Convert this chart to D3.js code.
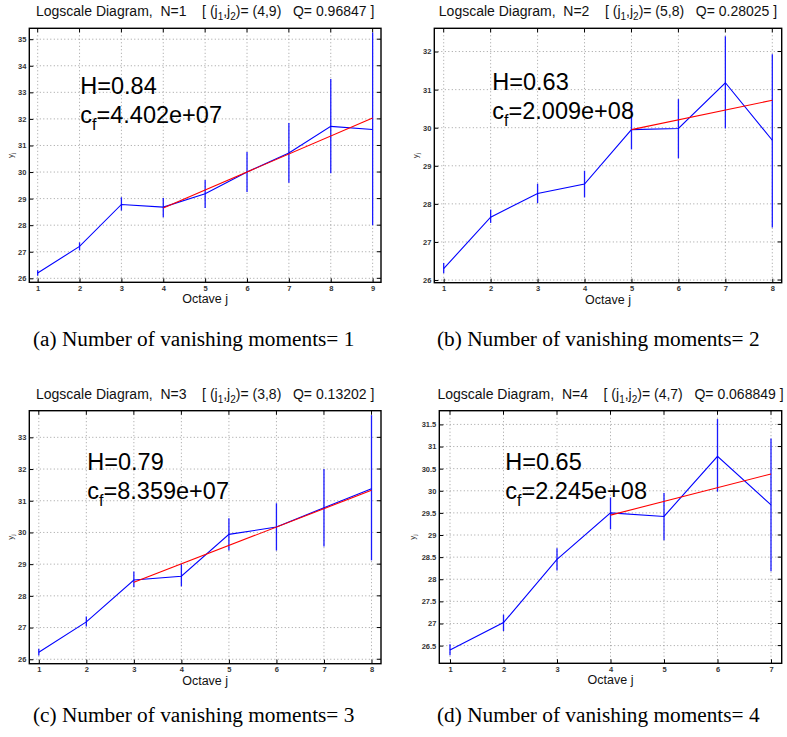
<!DOCTYPE html>
<html>
<head>
<meta charset="utf-8">
<script src="https://cdn.jsdelivr.net/npm/d3@7"></script>
<style>
  html, body { margin: 0; padding: 0; background: #fff; }
  svg { display: block; }
</style>
</head>
<body>
<svg id="fig" width="787" height="737"></svg>
<script>
// ---- Logscale diagram estimates, one set per number of vanishing moments ----
const octavesA = [1, 2, 3, 4, 5, 6, 7, 8, 9];
const yjA      = [26.2, 27.2, 28.78, 28.68, 29.18, 30.0, 30.72, 31.72, 31.6];
const loA      = [26.1, 27.05, 28.55, 28.3, 28.65, 29.25, 29.6, 29.95, 28.0];
const hiA      = [26.3, 27.35, 29.05, 29.02, 29.7, 30.75, 31.85, 33.5, 35.25];
const fitA     = [[4, 28.65], [9, 32.03]];

const octavesB = [1, 2, 3, 4, 5, 6, 7, 8];
const yjB      = [26.3, 27.65, 28.27, 28.52, 29.95, 29.98, 31.18, 29.67];
const loB      = [26.18, 27.5, 28.02, 28.17, 29.43, 29.2, 29.98, 27.38];
const hiB      = [26.45, 27.85, 28.53, 28.87, 30.55, 30.75, 32.4, 31.93];
const fitB     = [[5, 29.95], [8, 30.72]];

const octavesC = [1, 2, 3, 4, 5, 6, 7, 8];
const yjC      = [26.22, 27.18, 28.5, 28.62, 29.94, 30.17, 30.78, 31.38];
const loC      = [26.12, 27.03, 28.27, 28.3, 29.43, 29.43, 29.56, 29.12];
const hiC      = [26.33, 27.35, 28.77, 29.0, 30.45, 30.92, 32.0, 33.7];
const fitC     = [[3, 28.43], [8, 31.33]];

const octavesD = [1, 2, 3, 4, 5, 6, 7];
const yjD      = [26.4, 27.02, 28.45, 29.5, 29.42, 30.78, 29.68];
const loD      = [26.28, 26.83, 28.2, 29.13, 28.88, 29.98, 28.18];
const hiD      = [26.53, 27.2, 28.7, 29.85, 29.95, 31.62, 31.18];
const fitD     = [[4, 29.45], [7, 30.38]];

const yTicksA = [26, 27, 28, 29, 30, 31, 32, 33, 34, 35];
const yTicksB = [26, 27, 28, 29, 30, 31, 32];
const yTicksC = [26, 27, 28, 29, 30, 31, 32, 33];
const yTicksD = [26.5, 27, 27.5, 28, 28.5, 29, 29.5, 30, 30.5, 31, 31.5];

const titlesN  = ["1", "2", "3", "4"];
const rangesJ  = ["(4,9)", "(5,8)", "(3,8)", "(4,7)"];
const qValues  = ["0.96847", "0.28025", "0.13202", "0.068849"];
const hValues  = ["0.84", "0.63", "0.79", "0.65"];
const cfValues = ["4.402e+07", "2.009e+08", "8.359e+07", "2.245e+08"];
const captions = [
  "(a) Number of vanishing moments= 1",
  "(b) Number of vanishing moments= 2",
  "(c) Number of vanishing moments= 3",
  "(d) Number of vanishing moments= 4"
];

const svg = d3.select("#fig");
const SANS = "'Liberation Sans', Arial, Helvetica, sans-serif";
const SERIF = "'Liberation Serif', 'Times New Roman', Times, serif";

const panels = [
  { box: [29.3, 28.3, 381, 282.3], xd: [0.8, 9.2], yd: [25.85, 35.41], oct: octavesA, y: yjA, lo: loA, hi: hiA, fit: fitA, yt: yTicksA, txt: [51, 66], ylab: 16, cap: [33, 346] },
  { box: [434.3, 28.3, 781.7, 282.7], xd: [0.8, 8.2], yd: [25.93, 32.61], oct: octavesB, y: yjB, lo: loB, hi: hiB, fit: fitB, yt: yTicksB, txt: [58, 62], ylab: 16.5, cap: [437, 346] },
  { box: [29.3, 410.7, 381, 663.7], xd: [0.8, 8.2], yd: [25.86, 33.84], oct: octavesC, y: yjC, lo: loC, hi: hiC, fit: fitC, yt: yTicksC, txt: [58, 59], ylab: 16, cap: [33, 722] },
  { box: [439.3, 410.7, 781.7, 663.3], xd: [0.8, 7.2], yd: [26.1, 31.81], oct: octavesD, y: yjD, lo: loD, hi: hiD, fit: fitD, yt: yTicksD, txt: [66, 59], ylab: 24, cap: [437, 722] }
];

panels.forEach((p, i) => {
  const [x0, y0, x1, y1] = p.box;
  const x = d3.scaleLinear().domain(p.xd).range([x0, x1]);
  const y = d3.scaleLinear().domain(p.yd).range([y1, y0]);
  const g = svg.append("g");

  // dotted grid
  g.append("g").selectAll("line").data(p.oct).join("line")
    .attr("x1", d => x(d)).attr("x2", d => x(d))
    .attr("y1", y0).attr("y2", y1)
    .attr("stroke", "#888").attr("stroke-width", 0.8).attr("stroke-dasharray", "1,2.5");
  g.append("g").selectAll("line").data(p.yt).join("line")
    .attr("x1", x0).attr("x2", x1)
    .attr("y1", d => y(d)).attr("y2", d => y(d))
    .attr("stroke", "#888").attr("stroke-width", 0.8).attr("stroke-dasharray", "1,2.5");

  // axes (ticks point inward)
  const xAx = d3.axisBottom(x).tickValues(p.oct).tickSize(-4).tickPadding(3).tickFormat(d3.format("d"));
  const yAx = d3.axisLeft(y).tickValues(p.yt).tickSize(-4).tickPadding(3).tickFormat(d => String(d));
  const gx = g.append("g").attr("transform", `translate(0,${y1})`).call(xAx);
  const gy = g.append("g").attr("transform", `translate(${x0},0)`).call(yAx);
  [gx, gy].forEach(a => {
    a.select(".domain").remove();
    a.selectAll("text").attr("font-family", SANS).attr("font-size", 7.5)
      .attr("font-weight", "bold").attr("fill", "#333");
    a.selectAll("line").attr("stroke", "#000");
  });
  // mirrored ticks on top and right
  g.append("g").selectAll("line").data(p.oct).join("line")
    .attr("x1", d => x(d)).attr("x2", d => x(d)).attr("y1", y0).attr("y2", y0 + 4).attr("stroke", "#000");
  g.append("g").selectAll("line").data(p.yt).join("line")
    .attr("x1", x1).attr("x2", x1 - 4).attr("y1", d => y(d)).attr("y2", d => y(d)).attr("stroke", "#000");

  // frame
  g.append("rect").attr("x", x0).attr("y", y0).attr("width", x1 - x0).attr("height", y1 - y0)
    .attr("fill", "none").attr("stroke", "#000").attr("stroke-width", 1.4);

  // error bars
  g.append("g").selectAll("line").data(p.oct).join("line")
    .attr("x1", d => x(d)).attr("x2", d => x(d))
    .attr("y1", (d, k) => y(p.lo[k])).attr("y2", (d, k) => y(p.hi[k]))
    .attr("stroke", "#1a1aff").attr("stroke-width", 1.3);

  // estimate polyline
  const line = d3.line().x(d => x(d[0])).y(d => y(d[1]));
  g.append("path").datum(p.oct.map((d, k) => [d, p.y[k]]))
    .attr("d", line).attr("fill", "none").attr("stroke", "#0000ff").attr("stroke-width", 1.1);

  // regression line
  g.append("path").datum(p.fit).attr("d", line)
    .attr("fill", "none").attr("stroke", "#ff0000").attr("stroke-width", 1.1);

  // title
  const cx = (x0 + x1) / 2;
  const t = g.append("text").attr("x", cx).attr("y", y0 - 12)
    .attr("text-anchor", "middle").attr("font-family", SANS).attr("font-size", 14).attr("fill", "#111")
    .style("white-space", "pre");
  t.append("tspan").text(`Logscale Diagram,  N=${titlesN[i]}    [ (j`);
  t.append("tspan").attr("font-size", 10).attr("dy", 4).text("1");
  t.append("tspan").attr("dy", -4).text(",j");
  t.append("tspan").attr("font-size", 10).attr("dy", 4).text("2");
  t.append("tspan").attr("dy", -4).text(`)= ${rangesJ[i]}   Q= ${qValues[i]} ]`);

  // axis labels
  g.append("text").attr("x", cx).attr("y", y1 + 21)
    .attr("text-anchor", "middle").attr("font-family", SANS).attr("font-size", 12.5)
    .attr("fill", "#111").text("Octave j");
  const yl = g.append("text").attr("transform", `translate(${x0 - p.ylab},${(y0 + y1) / 2}) rotate(-90)`)
    .attr("text-anchor", "middle").attr("font-family", SANS).attr("font-size", 8).attr("fill", "#333");
  yl.append("tspan").text("y");
  yl.append("tspan").attr("font-size", 6).attr("dy", 2).text("j");

  // Hurst estimate annotation
  g.append("text").attr("x", x0 + p.txt[0]).attr("y", y0 + p.txt[1])
    .attr("font-family", SANS).attr("font-size", 23.5).attr("fill", "#000")
    .text(`H=${hValues[i]}`);
  const cf = g.append("text").attr("x", x0 + p.txt[0]).attr("y", y0 + p.txt[1] + 29)
    .attr("font-family", SANS).attr("font-size", 23.5).attr("fill", "#000");
  cf.append("tspan").text("c");
  cf.append("tspan").attr("font-size", 16).attr("dy", 7).text("f");
  cf.append("tspan").attr("dy", -7).text(`=${cfValues[i]}`);

  // caption
  svg.append("text").attr("x", p.cap[0]).attr("y", p.cap[1])
    .attr("font-family", SERIF).attr("font-size", 21.3).attr("fill", "#000")
    .text(captions[i]);
});
</script>
</body>
</html>
